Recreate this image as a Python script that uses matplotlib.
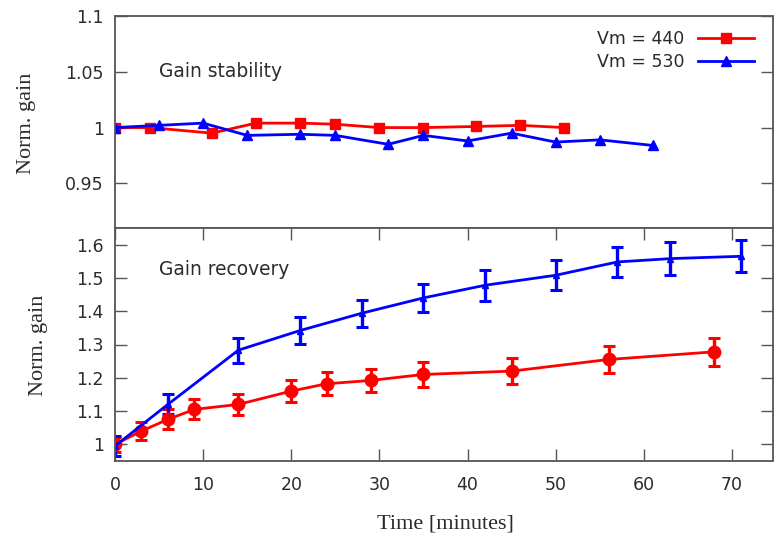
import matplotlib
matplotlib.use("Agg")
import matplotlib.pyplot as plt
from matplotlib.ticker import FixedLocator, FixedFormatter

# ---- data ----
stab_t_440 = [0, 4, 11, 16, 21, 25, 30, 35, 41, 46, 51]
stab_g_440 = [1.000, 1.000, 0.995, 1.004, 1.004, 1.003, 1.000, 1.000, 1.001, 1.002, 1.000]
stab_t_530 = [0, 5, 10, 15, 21, 25, 31, 35, 40, 45, 50, 55, 61]
stab_g_530 = [1.000, 1.002, 1.004, 0.993, 0.994, 0.993, 0.985, 0.993, 0.988, 0.995, 0.987, 0.989, 0.984]

rec_t_440 = [0, 3, 6, 9, 14, 20, 24, 29, 35, 45, 56, 68]
rec_g_440 = [1.000, 1.040, 1.075, 1.105, 1.120, 1.160, 1.182, 1.192, 1.210, 1.220, 1.255, 1.278]
rec_e_440 = [0.022, 0.026, 0.030, 0.030, 0.032, 0.033, 0.035, 0.035, 0.038, 0.038, 0.040, 0.042]
rec_t_530 = [0, 6, 14, 21, 28, 35, 42, 50, 57, 63, 71]
rec_g_530 = [0.995, 1.120, 1.283, 1.342, 1.394, 1.440, 1.478, 1.508, 1.548, 1.558, 1.565]
rec_e_530 = [0.030, 0.030, 0.038, 0.040, 0.040, 0.043, 0.046, 0.045, 0.046, 0.050, 0.048]

x_ticks = [0, 10, 20, 30, 40, 50, 60, 70]
top_yticks = [0.95, 1.0, 1.05, 1.1]
top_ylabels = ["0.95", "1", "1.05", "1.1"]
bot_yticks = [1.0, 1.1, 1.2, 1.3, 1.4, 1.5, 1.6]
bot_ylabels = ["1", "1.1", "1.2", "1.3", "1.4", "1.5", "1.6"]
legend_labels = ["Vm = 440", "Vm = 530"]

# ---- style ----
W, H = 776, 537
fig = plt.figure(figsize=(W / 100, H / 100), dpi=100)
txt_col = "#2b2b2b"
spine_col = "#555555"
RED = "#ff0000"
BLUE = "#0000ff"
lw = 2.0

left = 115 / W
width = (772.5 - 115) / W
ax1 = fig.add_axes([left, 1 - 228 / H, width, (228 - 16) / H])
ax2 = fig.add_axes([left, 1 - 461 / H, width, (461 - 228) / H])

for ax in (ax1, ax2):
    for s in ax.spines.values():
        s.set_color(spine_col)
        s.set_linewidth(1.3)
    ax.set_xlim(0, 74.6)
    ax.xaxis.set_major_locator(FixedLocator(x_ticks))
    ax.tick_params(direction="in", length=8.5, width=1.0, color=spine_col,
                   labelcolor=txt_col, labelsize=12.5, right=True, pad=8)

# top panel
ax1.set_ylim(0.91, 1.1)
ax1.yaxis.set_major_locator(FixedLocator(top_yticks))
ax1.yaxis.set_major_formatter(FixedFormatter(top_ylabels))
ax1.tick_params(axis="x", bottom=False, top=False, labelbottom=False)
ax1.plot(stab_t_440, stab_g_440, color=RED, lw=lw, marker="s", ms=7.5, label=legend_labels[0])
ax1.plot(stab_t_530, stab_g_530, color=BLUE, lw=lw, marker="^", ms=7, label=legend_labels[1])
ax1.text(5, 1.05, "Gain stability", fontsize=13.4, color=txt_col, va="center", ha="left")
leg = ax1.legend(loc="upper right", frameon=False, markerfirst=False, fontsize=12.5,
                 handlelength=3.2, handletextpad=0.8, labelspacing=0.25,
                 borderaxespad=0.3, bbox_to_anchor=(0.99, 0.99))
for t in leg.get_texts():
    t.set_color(txt_col)

# bottom panel
ax2.set_ylim(0.95, 1.65)
ax2.yaxis.set_major_locator(FixedLocator(bot_yticks))
ax2.yaxis.set_major_formatter(FixedFormatter(bot_ylabels))
ax2.tick_params(axis="x", top=True, bottom=True, pad=11)
ax2.errorbar(rec_t_440, rec_g_440, yerr=rec_e_440, color=RED, lw=lw, marker="o", ms=9,
             capsize=4.5, capthick=2.2, elinewidth=2.4)
ax2.errorbar(rec_t_530, rec_g_530, yerr=rec_e_530, color=BLUE, lw=lw, marker="^", ms=5,
             capsize=4.5, capthick=2.2, elinewidth=2.4)
ax2.text(5, 1.525, "Gain recovery", fontsize=13.4, color=txt_col, va="center", ha="left")

# axis labels
fig.text(27 / W, 1 - 123 / H, "Norm. gain", rotation=90, family="Liberation Serif",
         fontsize=16, color=txt_col, ha="center", va="center")
fig.text(38 / W, 1 - 345 / H, "Norm. gain", rotation=90, family="Liberation Serif",
         fontsize=16, color=txt_col, ha="center", va="center")
fig.text(445 / W, 1 - 524 / H, "Time [minutes]", family="Liberation Serif",
         fontsize=16, color=txt_col, ha="center", va="center")

fig.savefig("out.png", dpi=100)
